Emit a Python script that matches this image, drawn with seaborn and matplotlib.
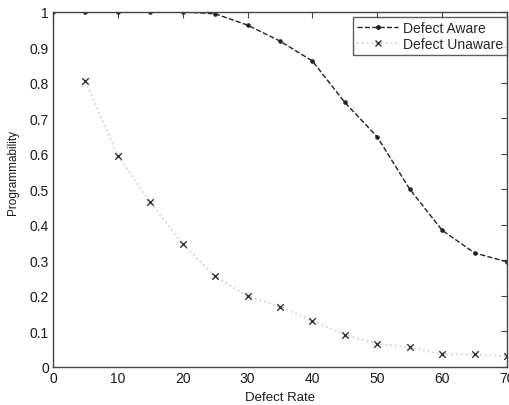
import numpy as np
import pandas as pd
import seaborn as sns
import matplotlib
matplotlib.use("Agg")
import matplotlib.pyplot as plt
from matplotlib.lines import Line2D

# Data
defect_rate = [0, 5, 10, 15, 20, 25, 30, 35, 40, 45, 50, 55, 60, 65, 70]
aware = [1.0, 1.0, 1.0, 1.0, 1.0, 0.995, 0.963, 0.918, 0.862, 0.745, 0.648,
         0.501, 0.385, 0.321, 0.296]
unaware_rate = [5, 10, 15, 20, 25, 30, 35, 40, 45, 50, 55, 60, 65, 70]
unaware = [0.805, 0.595, 0.465, 0.345, 0.255, 0.20, 0.17, 0.13, 0.09, 0.065,
           0.055, 0.035, 0.035, 0.03]
series_names = ['Defect Aware', 'Defect Unaware']
y_ticklabels = ['0', '0.1', '0.2', '0.3', '0.4', '0.5', '0.6', '0.7',
                '0.8', '0.9', '1']

sns.set_style("white")
plt.rcParams['font.family'] = ['Liberation Sans', 'DejaVu Sans']

df_aware = pd.DataFrame({'rate': defect_rate, 'prog': aware})
df_unaware = pd.DataFrame({'rate': unaware_rate, 'prog': unaware})

fig = plt.figure(figsize=(5.1, 4.06), dpi=100)
ax = fig.add_axes([0.104, 0.094, 0.890, 0.874])

# faint dotted connector for the unaware series, then the x markers on top
sns.lineplot(data=df_unaware, x='rate', y='prog', ax=ax, color='#d4d4d4',
             linestyle=':', linewidth=1.3)
sns.scatterplot(data=df_unaware, x='rate', y='prog', ax=ax, marker='x',
                color='#333333', s=22, linewidth=1.0, zorder=3)
sns.lineplot(data=df_aware, x='rate', y='prog', ax=ax, color='#222222',
             linestyle='--', linewidth=1.0, marker='o', markersize=2.5,
             markeredgecolor='#222222')

# legend proxies
handles = [Line2D([], [], color='#222222', linestyle='--', linewidth=1.0,
                  marker='o', markersize=2.5),
           Line2D([], [], color='#d4d4d4', linestyle=':', linewidth=1.3,
                  marker='x', markersize=4.5, markeredgecolor='#333333')]
leg = ax.legend(handles, series_names, loc='upper right',
                bbox_to_anchor=(1.0, 1 - 5 / 355), borderaxespad=0,
                fontsize=10, frameon=True, fancybox=False,
                handlelength=3.0, borderpad=0.3, labelspacing=0.15,
                handletextpad=0.3)
leg.get_frame().set_edgecolor('#333333')
leg.get_frame().set_linewidth(1.0)

ax.set_xlim(0, 70)
ax.set_ylim(0, 1)
ax.set_xticks(range(0, 71, 10))
ax.set_yticks(np.arange(0, 1.01, 0.1))
ax.set_yticklabels(y_ticklabels)
ax.tick_params(axis='both', which='both', direction='in', length=4,
               labelsize=10, top=True, right=True, color='#444444',
               labelcolor='#1a1a1a', pad=3)
for sp in ax.spines.values():
    sp.set_color('#444444')
    sp.set_linewidth(1.0)
ax.set_xlabel('Defect Rate', fontsize=9.5, color='#1a1a1a', labelpad=4)
ax.set_ylabel('Programmability', fontsize=8.5, color='#1a1a1a', labelpad=4)
ax.yaxis.set_label_coords(-0.075, 0.55)

fig.savefig('out.png', dpi=100)
